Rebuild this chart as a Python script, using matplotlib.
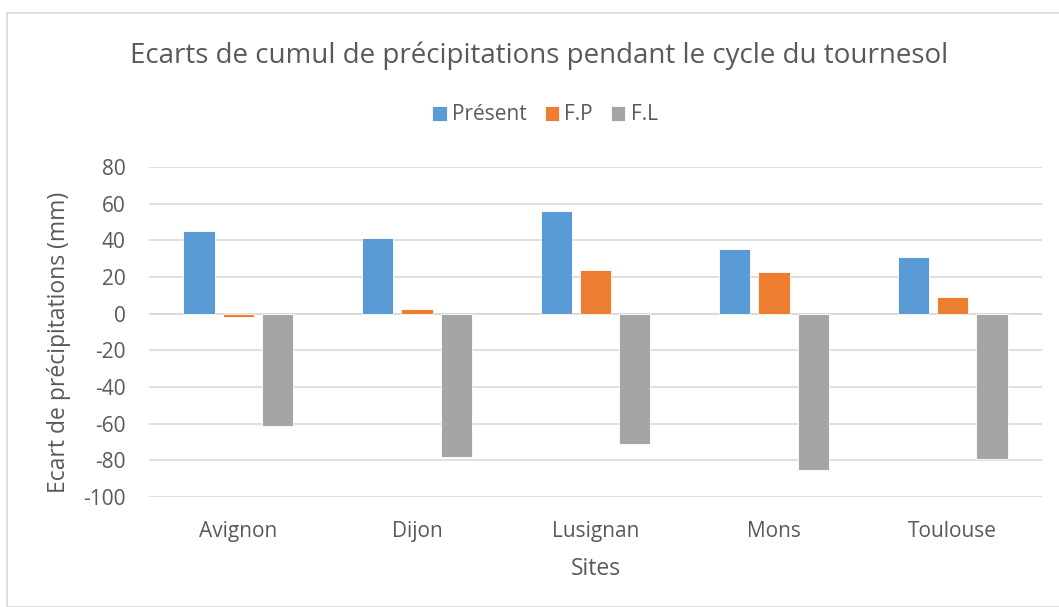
import numpy as np
import matplotlib
matplotlib.use('Agg')
import matplotlib.pyplot as plt
from matplotlib.patches import Rectangle

# donnees
sites = ['Avignon', 'Dijon', 'Lusignan', 'Mons', 'Toulouse']
present = [45, 41, 56, 35, 31]
fp = [-2, 2.5, 24, 22.5, 9]
fl = [-61, -78, -71, -85, -79]
series_names = ['Présent', 'F.P', 'F.L']
yticks = np.arange(-100, 81, 20)

couleurs = ['#5B9BD5', '#ED7D31', '#A5A5A5']
gris_texte = '#595959'

plt.rcParams['font.family'] = ['Open Sans', 'DejaVu Sans']
plt.rcParams['axes.unicode_minus'] = False

fig = plt.figure(figsize=(10.59, 6.07), dpi=100)
ax = fig.add_axes([149/1059, 110/607, (1042-149)/1059, (497-167)/607])

# cadre du graphique
fig.patches.append(Rectangle((7/1059, 0), 1.0, (607-13)/607, transform=fig.transFigure,
                             fill=False, edgecolor='#d9d9d9', linewidth=1.2))

x = np.arange(len(sites))
w = 0.175
pas = 0.22
for k, (vals, nom) in enumerate(zip([present, fp, fl], series_names)):
    ax.bar(x + (k - 1) * pas, vals, w, color=couleurs[k], label=nom,
           edgecolor='white', linewidth=0.6, zorder=3)

ax.set_xlim(-0.5, len(sites) - 0.5)
ax.set_ylim(-100, 80)
ax.set_yticks(yticks)
ax.set_xticks(x)
ax.set_xticklabels(sites)
ax.tick_params(axis='both', length=0, labelsize=15, colors=gris_texte)
ax.tick_params(axis='x', pad=17.5)
ax.tick_params(axis='y', pad=17)

ax.grid(axis='y', color='#d9d9d9', linewidth=1.2, zorder=0)
ax.axhline(0, color='#d9d9d9', linewidth=1.2, zorder=2)
for s in ax.spines.values():
    s.set_visible(False)

ax.set_xlabel('Sites', fontsize=16.5, color=gris_texte)
ax.set_ylabel('Ecart de précipitations (mm)', fontsize=16.5, color=gris_texte)
ax.xaxis.set_label_coords(0.5, -(557 - 497) / 330, transform=ax.transAxes)
ax.yaxis.set_label_coords(-(149 - 71) / 893, 0.47, transform=ax.transAxes)

fig.text(539/1059, 1 - 56/607, 'Ecarts de cumul de précipitations pendant le cycle du tournesol',
         ha='center', va='center', fontsize=20, color=gris_texte)

ax.legend(loc='center', bbox_to_anchor=(545/1059, 1 - 115/607), bbox_transform=fig.transFigure,
          ncol=3, frameon=False, fontsize=15, handlelength=0.7, handleheight=0.7,
          handletextpad=0.25, columnspacing=0.85, labelcolor=gris_texte)

plt.savefig('out.png', dpi=100)
